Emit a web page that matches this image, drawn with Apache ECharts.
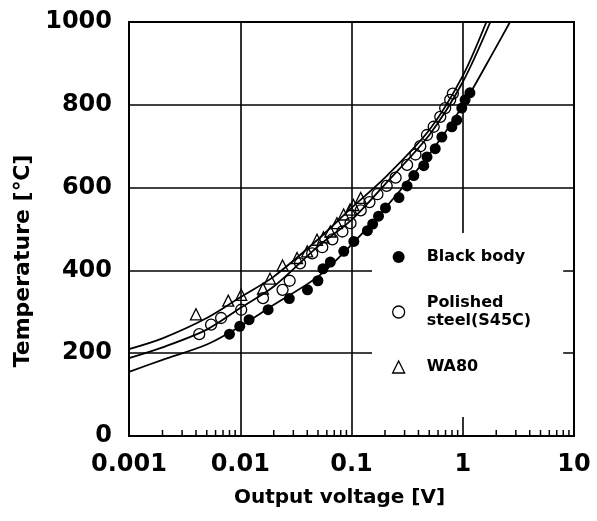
<!DOCTYPE html>
<html lang="en">
<head>
    <meta charset="utf-8">
    <title>Temperature vs output voltage</title>
    <script src="https://cdn.jsdelivr.net/npm/echarts@6/dist/echarts.min.js"></script>
    <style type="text/css">
        html, body {
            width: 100%;
            height: 100%;
            margin: 0px;
            padding: 0px;
            background: #fff;
        }

        #main {
            width: 597px;
            height: 521px;
        }
    </style>
</head>
<body>
<div id="main"></div>
<script>
    // axis labels
    var xTickLabels = ['0.001', '0.01', '0.1', '1', '10'];
    var minorTicks = [0.002, 0.003, 0.004, 0.005, 0.006, 0.007, 0.008, 0.009,
        0.02, 0.03, 0.04, 0.05, 0.06, 0.07, 0.08, 0.09,
        0.2, 0.3, 0.4, 0.5, 0.6, 0.7, 0.8, 0.9,
        2, 3, 4, 5, 6, 7, 8, 9];

    // fitted curves (voltage V, temperature degC)
    var wa80CurveV = [0.001, 0.002, 0.005, 0.01, 0.02, 0.05, 0.1, 0.2, 0.5, 1, 1.63];
    var wa80CurveT = [210, 236, 285, 335, 385, 475, 551, 624, 739, 870, 1000];
    var steelCurveV = [0.001, 0.002, 0.005, 0.01, 0.02, 0.05, 0.1, 0.2, 0.5, 1, 1.77];
    var steelCurveT = [188, 214, 257, 309, 361, 458, 522, 608, 727, 855, 1000];
    var blackCurveV = [0.001, 0.002, 0.005, 0.01, 0.02, 0.05, 0.1, 0.2, 0.5, 1, 2, 2.66];
    var blackCurveT = [155, 184, 221, 265, 317, 385, 462, 550, 680, 798, 940, 1000];

    // measured points
    var blackV = [0.0080, 0.0099, 0.0120, 0.0178, 0.0276, 0.0402, 0.0499, 0.0554, 0.0645, 0.0852, 0.105,
        0.139, 0.155, 0.175, 0.202, 0.267, 0.316, 0.363, 0.446, 0.477, 0.566, 0.649, 0.798, 0.883, 0.98, 1.05, 1.16];
    var blackT = [246, 265, 281, 305, 332, 353, 375, 404, 420, 446, 470,
        496, 512, 531, 551, 576, 604, 629, 653, 674, 694, 722, 747, 763, 792, 812, 829];
    var steelV = [0.00428, 0.00547, 0.00673, 0.0102, 0.016, 0.024, 0.0278, 0.0345, 0.0443, 0.0546, 0.0673,
        0.0828, 0.098, 0.121, 0.145, 0.171, 0.207, 0.249, 0.316, 0.376, 0.415, 0.477, 0.548, 0.628, 0.695, 0.771, 0.815];
    var steelT = [246, 269, 285, 305, 333, 353, 375, 417, 441, 456, 475,
        494, 514, 545, 565, 584, 604, 624, 655, 680, 700, 727, 747, 771, 792, 812, 827];
    var wa80V = [0.0040, 0.0078, 0.0102, 0.016, 0.0185, 0.024, 0.0324, 0.040, 0.049, 0.056, 0.0645, 0.074, 0.085, 0.097, 0.104, 0.121];
    var wa80T = [294, 327, 341, 356, 380, 412, 430, 446, 474, 480, 494, 514, 535, 547, 558, 575];

    var seriesNames = ['Black body', 'Polished\nsteel(S45C)', 'WA80'];

    function pairs(xs, ys) {
        return xs.map(function (x, i) { return [x, ys[i]]; });
    }

    var font = 'DejaVu Sans';
    var solid = {color: '#000', opacity: 1, borderWidth: 0};
    var hollow = {color: 'rgba(255,255,255,0)', borderColor: '#000', borderWidth: 1.3, opacity: 1};

    var myChart = echarts.init(document.getElementById('main'));
    myChart.setOption({
        animation: false,
        textStyle: {fontFamily: font, color: '#000'},
        grid: {
            left: 129, right: 23, top: 22, bottom: 85,
            show: true, borderColor: '#000', borderWidth: 2
        },
        legend: {
            orient: 'vertical',
            left: 372,
            top: 233,
            padding: [15, 32, 41, 20],
            itemGap: 28,
            itemWidth: 12,
            itemHeight: 12,
            backgroundColor: '#fff',
            selectedMode: false,
            textStyle: {fontFamily: font, fontWeight: 'bold', fontSize: 16, lineHeight: 18, color: '#000',
                padding: [0, 0, 0, 17]},
            data: [
                {name: seriesNames[0], icon: 'circle', itemStyle: solid},
                {name: seriesNames[1], icon: 'circle', itemStyle: hollow},
                {name: seriesNames[2], icon: 'triangle', itemStyle: hollow}
            ]
        },
        xAxis: {
            type: 'log',
            logBase: 10,
            min: 0.001,
            max: 10,
            name: 'Output voltage [V]',
            nameLocation: 'middle',
            nameGap: 52,
            nameTextStyle: {fontFamily: font, fontWeight: 'bold', fontSize: 20, color: '#000', padding: [0, 24, 0, 0]},
            axisLine: {lineStyle: {color: '#000', width: 2}},
            axisTick: {show: false},
            axisLabel: {
                margin: 17,
                fontFamily: font, fontWeight: 'bold', fontSize: 24, color: '#000',
                formatter: function (v) {
                    return xTickLabels[Math.round(Math.log10(v)) + 3];
                }
            },
            splitLine: {show: true, lineStyle: {color: '#000', width: 1.6}}
        },
        yAxis: {
            type: 'value',
            min: 0,
            max: 1000,
            interval: 200,
            name: 'Temperature [℃]',
            nameLocation: 'middle',
            nameGap: 84,
            nameTextStyle: {fontFamily: font, fontWeight: 'bold', fontSize: 22, color: '#000', padding: [0, 64, 0, 0]},
            axisLine: {show: true, lineStyle: {color: '#000', width: 2}},
            axisTick: {show: false},
            axisLabel: {
                margin: 17, fontFamily: font, fontWeight: 'bold', fontSize: 24, color: '#000',
                formatter: function (v) { return String(v); }
            },
            splitLine: {show: true, lineStyle: {color: '#000', width: 1.6}}
        },
        series: [
            {
                type: 'custom',
                silent: true,
                data: minorTicks.map(function (v) { return [v, 0]; }),
                renderItem: function (params, api) {
                    var p = api.coord([api.value(0), 0]);
                    return {
                        type: 'line',
                        shape: {x1: p[0], y1: p[1], x2: p[0], y2: p[1] - 6},
                        style: {stroke: '#000', lineWidth: 1.5}
                    };
                }
            },
            {type: 'line', name: 'c1', data: pairs(wa80CurveV, wa80CurveT), smooth: 0.3, showSymbol: false, silent: true,
                lineStyle: {color: '#000', width: 1.8}},
            {type: 'line', name: 'c2', data: pairs(steelCurveV, steelCurveT), smooth: 0.3, showSymbol: false, silent: true,
                lineStyle: {color: '#000', width: 1.8}},
            {type: 'line', name: 'c3', data: pairs(blackCurveV, blackCurveT), smooth: 0.3, showSymbol: false, silent: true,
                lineStyle: {color: '#000', width: 1.8}},
            {type: 'scatter', name: seriesNames[0], data: pairs(blackV, blackT), symbol: 'circle', symbolSize: 11,
                itemStyle: solid},
            {type: 'scatter', name: seriesNames[1], data: pairs(steelV, steelT), symbol: 'circle', symbolSize: 11,
                itemStyle: hollow},
            {type: 'scatter', name: seriesNames[2], data: pairs(wa80V, wa80T), symbol: 'triangle', symbolSize: 11,
                itemStyle: hollow}
        ]
    });
</script>
</body>
</html>
